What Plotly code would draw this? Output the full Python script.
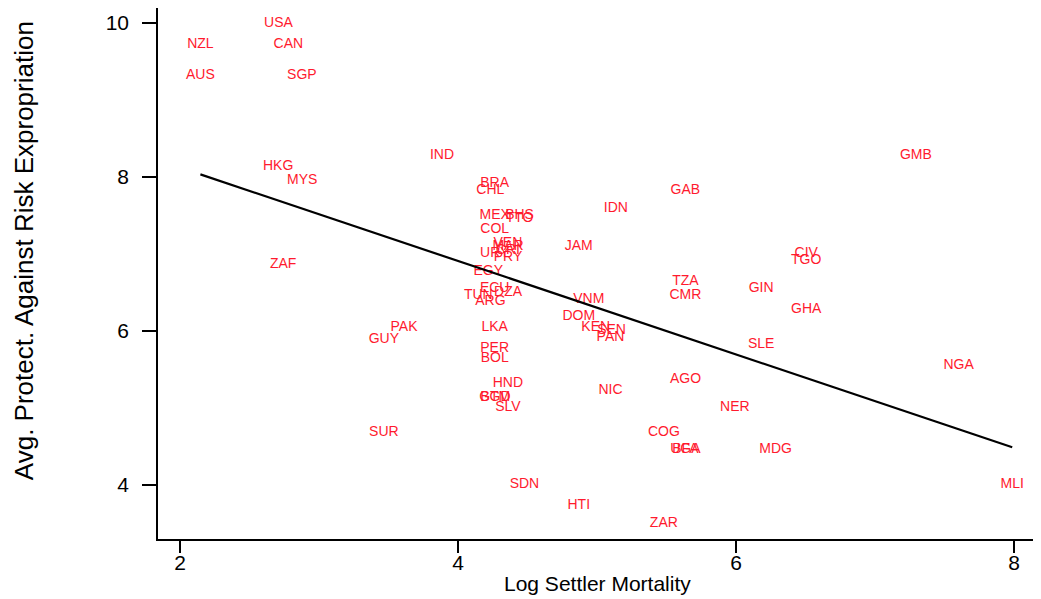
import numpy as np
import plotly.graph_objects as go

# country codes, log settler mortality, avg. protection against expropriation
countries = ["USA", "NZL", "CAN", "AUS", "SGP", "HKG", "MYS", "IND", "ZAF", "PAK",
             "GUY", "SUR", "BRA", "CHL", "MEX", "BHS", "TTO", "COL", "VEN", "MAR",
             "CRI", "URY", "PRY", "EGY", "ECU", "DZA", "TUN", "ARG", "LKA", "PER",
             "BOL", "HND", "GTM", "BGD", "SLV", "SDN", "HTI", "ZAR", "JAM", "IDN",
             "VNM", "DOM", "KEN", "SEN", "PAN", "NIC", "GAB", "TZA", "CMR", "AGO",
             "COG", "BFA", "UGA", "NER", "MDG", "SLE", "GIN", "CIV", "TGO", "GHA",
             "GMB", "NGA", "MLI"]
logem = [2.708, 2.146, 2.779, 2.146, 2.876, 2.705, 2.878, 3.884, 2.741, 3.611,
         3.466, 3.466, 4.263, 4.232, 4.263, 4.442, 4.442, 4.263, 4.358, 4.359,
         4.358, 4.263, 4.359, 4.217, 4.263, 4.359, 4.145, 4.232, 4.263, 4.263,
         4.263, 4.358, 4.263, 4.268, 4.358, 4.477, 4.868, 5.480, 4.868, 5.135,
         4.940, 4.868, 4.990, 5.104, 5.096, 5.096, 5.635, 5.635, 5.635, 5.636,
         5.480, 5.635, 5.635, 5.991, 6.284, 6.180, 6.180, 6.504, 6.504, 6.504,
         7.293, 7.600, 7.986]
avexpr = [10.000, 9.727, 9.727, 9.318, 9.318, 8.136, 7.955, 8.273, 6.864, 6.045,
          5.886, 4.682, 7.909, 7.818, 7.500, 7.500, 7.455, 7.318, 7.136, 7.091,
          7.045, 7.000, 6.955, 6.773, 6.545, 6.500, 6.455, 6.386, 6.045, 5.773,
          5.636, 5.318, 5.136, 5.136, 5.000, 4.000, 3.727, 3.500, 7.091, 7.591,
          6.409, 6.182, 6.045, 6.000, 5.909, 5.227, 7.818, 6.636, 6.455, 5.364,
          4.682, 4.455, 4.455, 5.000, 4.455, 5.818, 6.545, 7.000, 6.909, 6.273,
          8.273, 5.545, 4.000]

x = np.array(logem)
y = np.array(avexpr)
slope, intercept = np.polyfit(x, y, 1)
xs = np.sort(x)
fitted = intercept + slope * xs

font = "Liberation Sans, Arial, Helvetica, sans-serif"

fig = go.Figure()
fig.add_trace(go.Scatter(
    x=logem, y=avexpr, mode="text", text=countries,
    textposition="middle center",
    textfont=dict(family=font, size=14, color="#ff1a2e"),
    hoverinfo="text", showlegend=False,
))
fig.add_trace(go.Scatter(
    x=xs, y=fitted, mode="lines",
    line=dict(color="black", width=2.2), showlegend=False,
))

axis_style = dict(
    showgrid=False, zeroline=False, showline=True, linecolor="black", linewidth=1.5,
    ticks="outside", tickwidth=1.5, tickcolor="black", automargin=False,
    tickfont=dict(family=font, size=21, color="black"),
)
fig.update_xaxes(range=[1.841, 8.157], tickvals=[2, 4, 6, 8], ticklen=12,
                 ticklabelstandoff=-8, **axis_style)
fig.update_yaxes(range=[3.294, 10.195], tickvals=[4, 6, 8, 10], ticklen=14,
                 ticklabelstandoff=9, **axis_style)

# axis titles placed by hand, as in the original
fig.add_annotation(text="Log Settler Mortality", xref="paper", yref="paper",
                   x=0.5, y=0, yanchor="middle", yshift=-44, showarrow=False,
                   font=dict(family=font, size=21, color="black"))
fig.add_annotation(text="Avg. Protect. Against Risk Expropriation", xref="paper", yref="paper",
                   x=0, y=0.542, xanchor="center", xshift=-134, textangle=-90,
                   showarrow=False, font=dict(family=font, size=26, color="black"))

# page body adds an 8px offset, so the figure is a bit smaller than the window
fig.update_layout(
    width=1033, height=591,
    margin=dict(l=150, r=5, t=0, b=60),
    plot_bgcolor="white", paper_bgcolor="white",
    font=dict(family=font),
)

fig.write_html("out.html")
